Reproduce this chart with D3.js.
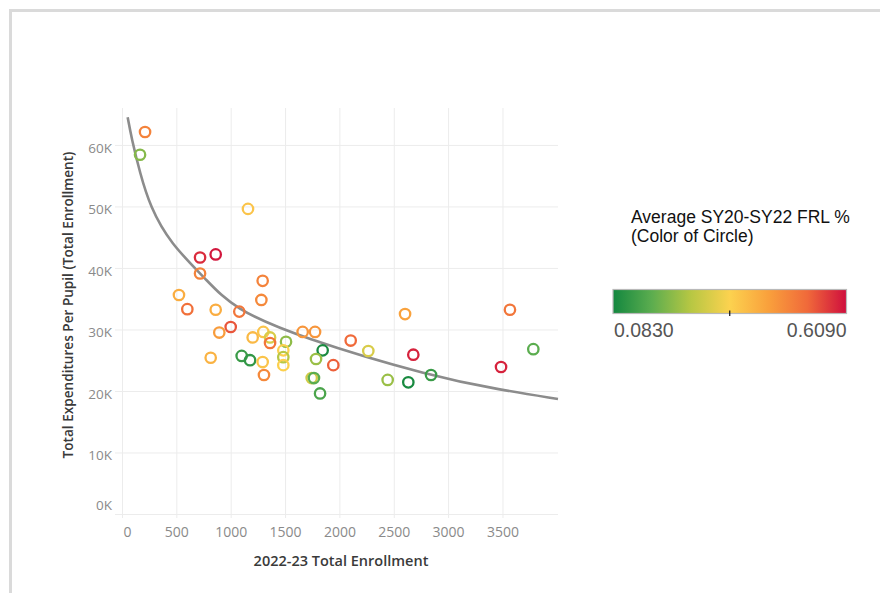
<!DOCTYPE html>
<html>
<head>
<meta charset="utf-8">
<script src="https://cdn.jsdelivr.net/npm/d3@7"></script>
<style>
  html, body { margin: 0; padding: 0; background: #fff; }
  svg { display: block; }
</style>
</head>
<body>
<svg id="chart" width="880" height="593"></svg>
<script>
// ---------- data ----------
const enrollment = [212, 166, 1159, 718, 862, 718, 1294, 1282, 524, 601, 862, 1079, 895, 1000, 1300, 1202, 1362, 1362, 1509, 816, 1101, 1178, 1294, 1306, 1484, 1484, 1484, 1662, 1776, 1846, 1785, 1944, 1745, 1766, 1822, 2104, 2266, 2604, 2680, 2444, 2634, 2843, 3569, 3487, 3784];
const expenditure = [62100, 58400, 49600, 41700, 42200, 39100, 37900, 34800, 35600, 33300, 33200, 32900, 29500, 30400, 29600, 28700, 28700, 27800, 28000, 25400, 25700, 25000, 24700, 22600, 26600, 25500, 24200, 29600, 29600, 26600, 25200, 24200, 22100, 22100, 19600, 28200, 26500, 32500, 25900, 21800, 21400, 22600, 33200, 23900, 26800];
const frl = [0.48, 0.21, 0.37, 0.58, 0.60, 0.48, 0.48, 0.47, 0.41, 0.51, 0.41, 0.50, 0.44, 0.54, 0.37, 0.39, 0.30, 0.50, 0.22, 0.40, 0.13, 0.12, 0.37, 0.47, 0.35, 0.26, 0.35, 0.45, 0.45, 0.09, 0.23, 0.53, 0.29, 0.17, 0.15, 0.52, 0.30, 0.43, 0.59, 0.23, 0.09, 0.13, 0.50, 0.59, 0.17];

// trend line
const trendX = [52, 89, 166, 258, 442, 779, 1024, 1638, 2864, 3477, 4011];
const trendY = [64500, 61000, 55400, 50000, 44020, 38050, 33400, 28700, 22300, 20200, 18700];

const xTicks = [0, 500, 1000, 1500, 2000, 2500, 3000, 3500];
const yTicks = [0, 10000, 20000, 30000, 40000, 50000, 60000];
const frlMin = 0.083, frlMax = 0.609;
const legendLabels = ["0.0830", "0.6090"];
const colorStops = ["#13873f", "#5cad4f", "#b7c743", "#fcd24f", "#f9a03c", "#f0693a", "#cf0e3d"];

const xTitle = "2022-23 Total Enrollment";
const yTitle = "Total Expenditures Per Pupil (Total Enrollment)";
const legendTitle = ["Average SY20-SY22 FRL %", "(Color of Circle)"];

// ---------- setup ----------
const svg = d3.select("#chart");
const x = d3.scaleLinear().domain([0, 4011]).range([122, 558]);
const y = d3.scaleLinear().domain([0, 66000]).range([514, 108]);
const stopDomain = colorStops.map((c, i) => frlMin + (frlMax - frlMin) * i / (colorStops.length - 1));
const color = d3.scaleLinear().domain(stopDomain).range(colorStops).interpolate(d3.interpolateRgb).clamp(true);

// frame
svg.append("path")
  .attr("d", "M10.5,593 V10.5 H880")
  .attr("fill", "none").attr("stroke", "#dadada").attr("stroke-width", 3);

const tickFont = "'Open Sans', sans-serif";

// x axis with grid
const gx = svg.append("g").attr("transform", "translate(0,518)")
  .call(d3.axisBottom(x).tickValues(xTicks).tickSize(-410).tickSizeOuter(0).tickPadding(9).tickFormat(d3.format("d")));
gx.select(".domain").remove();
gx.selectAll(".tick line").attr("stroke", "#ececec");
gx.selectAll(".tick text").attr("fill", "#8a8a8a").style("font-family", tickFont).style("font-size", "14px")
  .attr("dx", d => d === 0 ? 5 : 0);

// y axis with grid
const gy = svg.append("g").attr("transform", "translate(115,0)")
  .call(d3.axisLeft(y).tickValues(yTicks).tickSize(-443).tickSizeOuter(0).tickPadding(3)
    .tickFormat(d => (d / 1000) + "K"));
gy.select(".domain").remove();
gy.selectAll(".tick line").attr("stroke", "#ececec");
gy.selectAll(".tick text").attr("fill", "#8a8a8a").style("font-family", tickFont).style("font-size", "13.5px")
  .attr("dy", d => d === 0 ? "-0.3em" : "0.55em");

// axis titles
svg.append("text").attr("x", 341).attr("y", 566).attr("text-anchor", "middle")
  .style("font-family", tickFont).style("font-size", "14.5px").style("font-weight", 600).attr("fill", "#3a3a3a")
  .text(xTitle);
svg.append("text").attr("transform", "translate(73,305) rotate(-90)").attr("text-anchor", "middle")
  .style("font-family", tickFont).style("font-size", "13.6px").style("font-weight", 600).attr("fill", "#3a3a3a")
  .text(yTitle);

// trend line
const trend = trendX.map((d, i) => [d, trendY[i]]);
svg.append("path").datum(trend)
  .attr("d", d3.line().x(d => x(d[0])).y(d => y(d[1])).curve(d3.curveBasis))
  .attr("fill", "none").attr("stroke", "#8c8c8c").attr("stroke-width", 2.6);

// points
const pts = enrollment.map((d, i) => ({ e: d, v: expenditure[i], f: frl[i] }));
svg.append("g").selectAll("circle").data(pts).join("circle")
  .attr("cx", d => x(d.e)).attr("cy", d => y(d.v)).attr("r", 5.2)
  .attr("fill", "none").attr("stroke", d => color(d.f)).attr("stroke-width", 2.3);

// legend
const lg = svg.append("g");
lg.selectAll("text.title").data(legendTitle).join("text").attr("class", "title")
  .attr("x", 631).attr("y", (d, i) => 222.5 + i * 19.5)
  .style("font-family", "'Liberation Sans', Arial, sans-serif").style("font-size", "17.5px").attr("fill", "#111")
  .text(d => d);

const defs = svg.append("defs");
const grad = defs.append("linearGradient").attr("id", "frlGrad").attr("x1", "0%").attr("x2", "100%");
grad.selectAll("stop").data(colorStops).join("stop")
  .attr("offset", (d, i) => (100 * i / (colorStops.length - 1)) + "%").attr("stop-color", d => d);

const legScale = d3.scaleLinear().domain([frlMin, frlMax]).range([613, 846.5]);
lg.append("rect").attr("x", legScale(frlMin)).attr("y", 289.5)
  .attr("width", legScale(frlMax) - legScale(frlMin)).attr("height", 24)
  .attr("fill", "url(#frlGrad)").attr("stroke", "#b9b9b9").attr("stroke-width", 1.2);
lg.append("line").attr("x1", legScale((frlMin + frlMax) / 2)).attr("x2", legScale((frlMin + frlMax) / 2))
  .attr("y1", 310.5).attr("y2", 316).attr("stroke", "#111").attr("stroke-width", 1.2);
lg.append("text").attr("x", legScale(frlMin) + 1).attr("y", 336.5)
  .style("font-family", "'Liberation Sans', Arial, sans-serif").style("font-size", "19.5px").attr("fill", "#555")
  .text(legendLabels[0]);
lg.append("text").attr("x", legScale(frlMax)).attr("y", 336.5).attr("text-anchor", "end")
  .style("font-family", "'Liberation Sans', Arial, sans-serif").style("font-size", "19.5px").attr("fill", "#555")
  .text(legendLabels[1]);
</script>
</body>
</html>
